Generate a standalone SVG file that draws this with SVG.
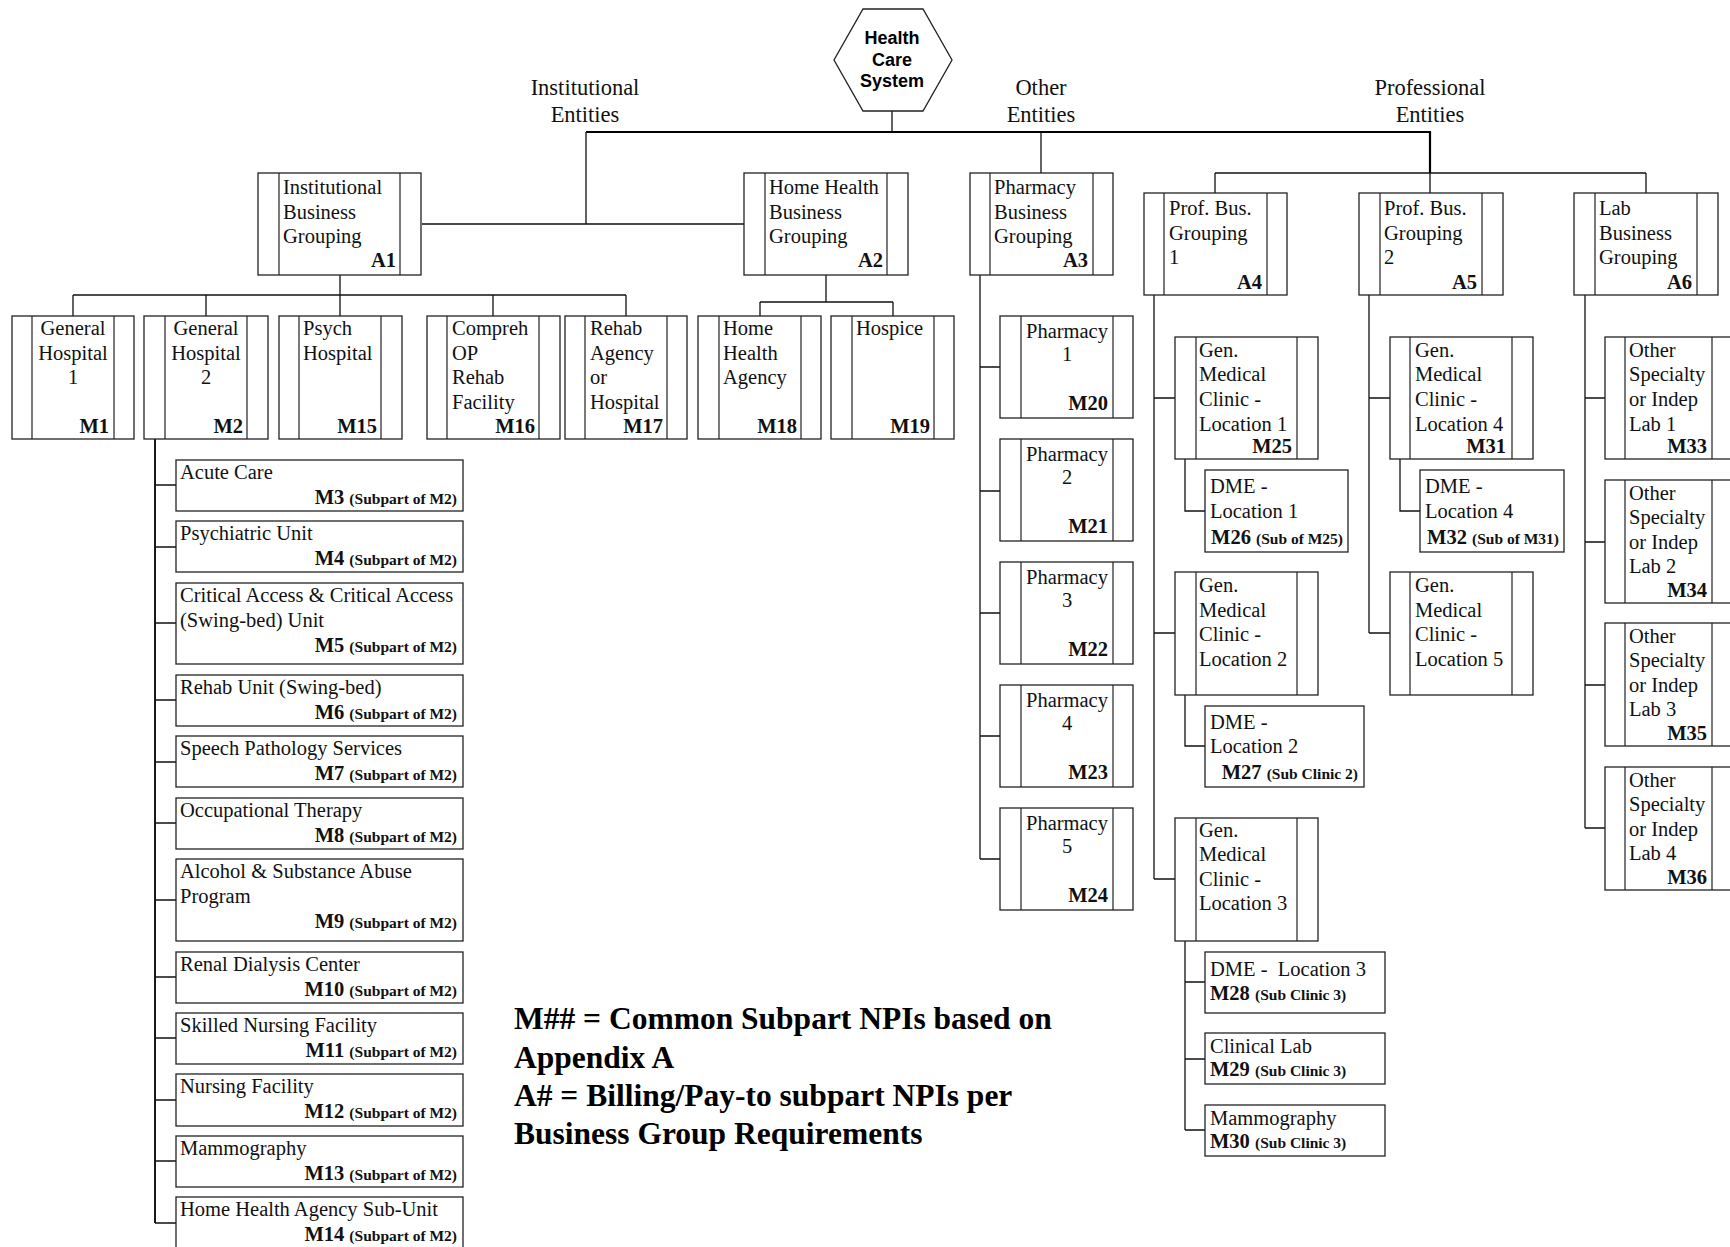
<svg xmlns="http://www.w3.org/2000/svg" width="1730" height="1247" viewBox="0 0 1730 1247">
<style>
.bg{fill:#fff}
.b{fill:#fff;stroke:#222;stroke-width:1.3}
.in{fill:none;stroke:#222;stroke-width:1.2}
.c{fill:none;stroke:#111;stroke-width:1.3}
.ck{fill:none;stroke:#000;stroke-width:2.2}
.t{font-family:"Liberation Serif","Times New Roman",serif;font-size:20.5px;fill:#111}
.mid{text-anchor:middle}
.m{font-weight:bold;text-anchor:end}
.ml{font-weight:bold}
.s{font-size:15.5px;font-weight:bold}
.lab{font-family:"Liberation Serif","Times New Roman",serif;font-size:22.5px;fill:#111;text-anchor:middle}
.hx{font-family:"Liberation Sans",Arial,sans-serif;font-size:18px;font-weight:bold;fill:#000;text-anchor:middle}
.leg{font-family:"Liberation Serif","Times New Roman",serif;font-size:31.5px;font-weight:bold;fill:#000}
</style>
<rect class="bg" x="0" y="0" width="1730" height="1247"/>

<g id="connectors">
<path class="c" d="M892,111V132"/>
<path class="ck" d="M586,132H1430V173"/>
<path class="c" d="M586,132V224M422,224H744"/>
<path class="c" d="M1041,132V173"/>
<path class="c" d="M1215,173H1646M1215,173V193M1430,173V193M1646,173V193"/>
<path class="c" d="M340,275V295M73,295H626M73,295V316M206,295V316M340,295V316M493,295V316M626,295V316"/>
<path class="c" d="M826,275V302M760,302H893M760,302V316M893,302V316"/>
<path class="ck" d="M155,439V1223" style="stroke-width:1.8"/>
<path class="c" d="M155,485H176M155,547H176M155,623H176M155,700H176M155,762H176M155,823H176M155,900H176M155,977H176M155,1038H176M155,1100H176M155,1161H176M155,1223H176"/>
<path class="c" d="M980,275V859M980,367H1000M980,491H1000M980,613H1000M980,736H1000M980,859H1000"/>
<path class="c" d="M1154,295V879M1154,398H1175M1154,633H1175M1154,879H1175"/>
<path class="c" d="M1185,459V511H1205M1185,695V746H1205"/>
<path class="c" d="M1185,941V1130M1185,982H1205M1185,1059H1205M1185,1130H1205"/>
<path class="c" d="M1369,295V633M1369,398H1390M1369,633H1390"/>
<path class="c" d="M1400,459V511H1420"/>
<path class="c" d="M1585,295V828M1585,398H1605M1585,542H1605M1585,685H1605M1585,828H1605"/>
</g>

<g id="hc">
<polygon class="b" points="863,9 923,9 952,60 923,111 863,111 834,60"/>
<text class="hx" x="892" y="44">Health</text>
<text class="hx" x="892" y="66">Care</text>
<text class="hx" x="892" y="87">System</text>
</g>

<g id="labels">
<text class="lab" x="585" y="95">Institutional</text>
<text class="lab" x="585" y="122">Entities</text>
<text class="lab" x="1041" y="95">Other</text>
<text class="lab" x="1041" y="122">Entities</text>
<text class="lab" x="1430" y="95">Professional</text>
<text class="lab" x="1430" y="122">Entities</text>
</g>

<g id="A1"><rect class="b" x="258" y="173" width="163" height="102"/><path class="in" d="M279,173V275M400,173V275"/>
<text class="t" x="283" y="194">Institutional</text><text class="t" x="283" y="219">Business</text><text class="t" x="283" y="243">Grouping</text><text class="t m" x="396" y="267">A1</text></g>
<g id="A2"><rect class="b" x="744" y="173" width="164" height="102"/><path class="in" d="M765,173V275M887,173V275"/>
<text class="t" x="769" y="194">Home Health</text><text class="t" x="769" y="219">Business</text><text class="t" x="769" y="243">Grouping</text><text class="t m" x="883" y="267">A2</text></g>
<g id="A3"><rect class="b" x="970" y="173" width="143" height="102"/><path class="in" d="M990,173V275M1093,173V275"/>
<text class="t" x="994" y="194">Pharmacy</text><text class="t" x="994" y="219">Business</text><text class="t" x="994" y="243">Grouping</text><text class="t m" x="1088" y="267">A3</text></g>
<g id="A4"><rect class="b" x="1144" y="193" width="143" height="102"/><path class="in" d="M1164,193V295M1267,193V295"/>
<text class="t" x="1169" y="215">Prof. Bus.</text><text class="t" x="1169" y="240">Grouping</text><text class="t" x="1169" y="264">1</text><text class="t m" x="1262" y="289">A4</text></g>
<g id="A5"><rect class="b" x="1359" y="193" width="144" height="102"/><path class="in" d="M1380,193V295M1482,193V295"/>
<text class="t" x="1384" y="215">Prof. Bus.</text><text class="t" x="1384" y="240">Grouping</text><text class="t" x="1384" y="264">2</text><text class="t m" x="1477" y="289">A5</text></g>
<g id="A6"><rect class="b" x="1574" y="193" width="144" height="102"/><path class="in" d="M1595,193V295M1697,193V295"/>
<text class="t" x="1599" y="215">Lab</text><text class="t" x="1599" y="240">Business</text><text class="t" x="1599" y="264">Grouping</text><text class="t m" x="1692" y="289">A6</text></g>

<g id="M1"><rect class="b" x="12" y="316" width="122" height="123"/><path class="in" d="M32,316V439M114,316V439"/>
<text class="t mid" x="73" y="335">General</text><text class="t mid" x="73" y="360">Hospital</text><text class="t mid" x="73" y="384">1</text><text class="t m" x="109" y="433">M1</text></g>
<g id="M2"><rect class="b" x="144" y="316" width="124" height="123"/><path class="in" d="M165,316V439M247,316V439"/>
<text class="t mid" x="206" y="335">General</text><text class="t mid" x="206" y="360">Hospital</text><text class="t mid" x="206" y="384">2</text><text class="t m" x="243" y="433">M2</text></g>
<g id="M15"><rect class="b" x="279" y="316" width="123" height="123"/><path class="in" d="M299,316V439M381,316V439"/>
<text class="t" x="303" y="335">Psych</text><text class="t" x="303" y="360">Hospital</text><text class="t m" x="377" y="433">M15</text></g>
<g id="M16"><rect class="b" x="427" y="316" width="133" height="123"/><path class="in" d="M447,316V439M539,316V439"/>
<text class="t" x="452" y="335">Compreh</text><text class="t" x="452" y="360">OP</text><text class="t" x="452" y="384">Rehab</text><text class="t" x="452" y="409">Facility</text><text class="t m" x="535" y="433">M16</text></g>
<g id="M17"><rect class="b" x="565" y="316" width="122" height="123"/><path class="in" d="M585,316V439M667,316V439"/>
<text class="t" x="590" y="335">Rehab</text><text class="t" x="590" y="360">Agency</text><text class="t" x="590" y="384">or</text><text class="t" x="590" y="409">Hospital</text><text class="t m" x="663" y="433">M17</text></g>
<g id="M18"><rect class="b" x="698" y="316" width="123" height="123"/><path class="in" d="M719,316V439M801,316V439"/>
<text class="t" x="723" y="335">Home</text><text class="t" x="723" y="360">Health</text><text class="t" x="723" y="384">Agency</text><text class="t m" x="797" y="433">M18</text></g>
<g id="M19"><rect class="b" x="831" y="316" width="123" height="123"/><path class="in" d="M852,316V439M934,316V439"/>
<text class="t" x="856" y="335">Hospice</text><text class="t m" x="930" y="433">M19</text></g>

<g id="M3"><rect class="b" x="176" y="460" width="287" height="51"/><text class="t" x="180" y="479">Acute Care</text><text class="t m" x="457" y="504">M3 <tspan class="s">(Subpart of M2)</tspan></text></g>
<g id="M4"><rect class="b" x="176" y="521" width="287" height="51"/><text class="t" x="180" y="540">Psychiatric Unit</text><text class="t m" x="457" y="565">M4 <tspan class="s">(Subpart of M2)</tspan></text></g>
<g id="M5"><rect class="b" x="176" y="583" width="287" height="81"/><text class="t" x="180" y="602">Critical Access &amp; Critical Access</text><text class="t" x="180" y="627">(Swing-bed) Unit</text><text class="t m" x="457" y="652">M5 <tspan class="s">(Subpart of M2)</tspan></text></g>
<g id="M6"><rect class="b" x="176" y="675" width="287" height="51"/><text class="t" x="180" y="694">Rehab Unit (Swing-bed)</text><text class="t m" x="457" y="719">M6 <tspan class="s">(Subpart of M2)</tspan></text></g>
<g id="M7"><rect class="b" x="176" y="736" width="287" height="51"/><text class="t" x="180" y="755">Speech Pathology Services</text><text class="t m" x="457" y="780">M7 <tspan class="s">(Subpart of M2)</tspan></text></g>
<g id="M8"><rect class="b" x="176" y="798" width="287" height="51"/><text class="t" x="180" y="817">Occupational Therapy</text><text class="t m" x="457" y="842">M8 <tspan class="s">(Subpart of M2)</tspan></text></g>
<g id="M9"><rect class="b" x="176" y="859" width="287" height="82"/><text class="t" x="180" y="878">Alcohol &amp; Substance Abuse</text><text class="t" x="180" y="903">Program</text><text class="t m" x="457" y="928">M9 <tspan class="s">(Subpart of M2)</tspan></text></g>
<g id="M10"><rect class="b" x="176" y="952" width="287" height="51"/><text class="t" x="180" y="971">Renal Dialysis Center</text><text class="t m" x="457" y="996">M10 <tspan class="s">(Subpart of M2)</tspan></text></g>
<g id="M11"><rect class="b" x="176" y="1013" width="287" height="51"/><text class="t" x="180" y="1032">Skilled Nursing Facility</text><text class="t m" x="457" y="1057">M11 <tspan class="s">(Subpart of M2)</tspan></text></g>
<g id="M12"><rect class="b" x="176" y="1074" width="287" height="52"/><text class="t" x="180" y="1093">Nursing Facility</text><text class="t m" x="457" y="1118">M12 <tspan class="s">(Subpart of M2)</tspan></text></g>
<g id="M13"><rect class="b" x="176" y="1136" width="287" height="51"/><text class="t" x="180" y="1155">Mammography</text><text class="t m" x="457" y="1180">M13 <tspan class="s">(Subpart of M2)</tspan></text></g>
<g id="M14"><rect class="b" x="176" y="1197" width="287" height="60"/><text class="t" x="180" y="1216">Home Health Agency Sub-Unit</text><text class="t m" x="457" y="1241">M14 <tspan class="s">(Subpart of M2)</tspan></text></g>

<g id="M20"><rect class="b" x="1000" y="316" width="133" height="102"/><path class="in" d="M1021,316V418M1113,316V418"/><text class="t mid" x="1067" y="338">Pharmacy</text><text class="t mid" x="1067" y="361">1</text><text class="t m" x="1108" y="410">M20</text></g>
<g id="M21"><rect class="b" x="1000" y="439" width="133" height="102"/><path class="in" d="M1021,439V541M1113,439V541"/><text class="t mid" x="1067" y="461">Pharmacy</text><text class="t mid" x="1067" y="484">2</text><text class="t m" x="1108" y="533">M21</text></g>
<g id="M22"><rect class="b" x="1000" y="562" width="133" height="102"/><path class="in" d="M1021,562V664M1113,562V664"/><text class="t mid" x="1067" y="584">Pharmacy</text><text class="t mid" x="1067" y="607">3</text><text class="t m" x="1108" y="656">M22</text></g>
<g id="M23"><rect class="b" x="1000" y="685" width="133" height="102"/><path class="in" d="M1021,685V787M1113,685V787"/><text class="t mid" x="1067" y="707">Pharmacy</text><text class="t mid" x="1067" y="730">4</text><text class="t m" x="1108" y="779">M23</text></g>
<g id="M24"><rect class="b" x="1000" y="808" width="133" height="102"/><path class="in" d="M1021,808V910M1113,808V910"/><text class="t mid" x="1067" y="830">Pharmacy</text><text class="t mid" x="1067" y="853">5</text><text class="t m" x="1108" y="902">M24</text></g>

<g id="M25"><rect class="b" x="1175" y="337" width="143" height="122"/><path class="in" d="M1196,337V459M1297,337V459"/><text class="t" x="1199" y="357">Gen.</text><text class="t" x="1199" y="381">Medical</text><text class="t" x="1199" y="406">Clinic -</text><text class="t" x="1199" y="431">Location 1</text><text class="t m" x="1292" y="453">M25</text></g>
<g id="M26"><rect class="b" x="1205" y="470" width="143" height="82"/><text class="t" x="1210" y="493">DME -</text><text class="t" x="1210" y="518">Location 1</text><text class="t m" x="1343" y="544">M26 <tspan class="s">(Sub of M25)</tspan></text></g>
<g id="GMC2"><rect class="b" x="1175" y="572" width="143" height="123"/><path class="in" d="M1196,572V695M1297,572V695"/><text class="t" x="1199" y="592">Gen.</text><text class="t" x="1199" y="617">Medical</text><text class="t" x="1199" y="641">Clinic -</text><text class="t" x="1199" y="666">Location 2</text></g>
<g id="M27"><rect class="b" x="1205" y="706" width="159" height="81"/><text class="t" x="1210" y="729">DME -</text><text class="t" x="1210" y="753">Location 2</text><text class="t m" x="1358" y="779">M27 <tspan class="s">(Sub Clinic 2)</tspan></text></g>
<g id="GMC3"><rect class="b" x="1175" y="818" width="143" height="123"/><path class="in" d="M1196,818V941M1297,818V941"/><text class="t" x="1199" y="837">Gen.</text><text class="t" x="1199" y="861">Medical</text><text class="t" x="1199" y="886">Clinic -</text><text class="t" x="1199" y="910">Location 3</text></g>
<g id="M28"><rect class="b" x="1205" y="952" width="180" height="61"/><text class="t" x="1210" y="976" xml:space="preserve">DME -  Location 3</text><text class="t ml" x="1210" y="1000">M28 <tspan class="s">(Sub Clinic 3)</tspan></text></g>
<g id="M29"><rect class="b" x="1205" y="1033" width="180" height="51"/><text class="t" x="1210" y="1053">Clinical Lab</text><text class="t ml" x="1210" y="1076">M29 <tspan class="s">(Sub Clinic 3)</tspan></text></g>
<g id="M30"><rect class="b" x="1205" y="1105" width="180" height="51"/><text class="t" x="1210" y="1125">Mammography</text><text class="t ml" x="1210" y="1148">M30 <tspan class="s">(Sub Clinic 3)</tspan></text></g>

<g id="M31"><rect class="b" x="1390" y="337" width="143" height="122"/><path class="in" d="M1410,337V459M1512,337V459"/><text class="t" x="1415" y="357">Gen.</text><text class="t" x="1415" y="381">Medical</text><text class="t" x="1415" y="406">Clinic -</text><text class="t" x="1415" y="431">Location 4</text><text class="t m" x="1506" y="453">M31</text></g>
<g id="M32"><rect class="b" x="1420" y="470" width="144" height="82"/><text class="t" x="1425" y="493">DME -</text><text class="t" x="1425" y="518">Location 4</text><text class="t m" x="1559" y="544">M32 <tspan class="s">(Sub of M31)</tspan></text></g>
<g id="GMC5"><rect class="b" x="1390" y="572" width="143" height="123"/><path class="in" d="M1410,572V695M1512,572V695"/><text class="t" x="1415" y="592">Gen.</text><text class="t" x="1415" y="617">Medical</text><text class="t" x="1415" y="641">Clinic -</text><text class="t" x="1415" y="666">Location 5</text></g>

<g id="M33"><rect class="b" x="1605" y="337" width="128" height="122"/><path class="in" d="M1625,337V459M1712,337V459"/><text class="t" x="1629" y="357">Other</text><text class="t" x="1629" y="381">Specialty</text><text class="t" x="1629" y="406">or Indep</text><text class="t" x="1629" y="431">Lab 1</text><text class="t m" x="1707" y="453">M33</text></g>
<g id="M34"><rect class="b" x="1605" y="480" width="128" height="123"/><path class="in" d="M1625,480V603M1712,480V603"/><text class="t" x="1629" y="500">Other</text><text class="t" x="1629" y="524">Specialty</text><text class="t" x="1629" y="549">or Indep</text><text class="t" x="1629" y="573">Lab 2</text><text class="t m" x="1707" y="597">M34</text></g>
<g id="M35"><rect class="b" x="1605" y="623" width="128" height="123"/><path class="in" d="M1625,623V746M1712,623V746"/><text class="t" x="1629" y="643">Other</text><text class="t" x="1629" y="667">Specialty</text><text class="t" x="1629" y="692">or Indep</text><text class="t" x="1629" y="716">Lab 3</text><text class="t m" x="1707" y="740">M35</text></g>
<g id="M36"><rect class="b" x="1605" y="767" width="128" height="123"/><path class="in" d="M1625,767V890M1712,767V890"/><text class="t" x="1629" y="787">Other</text><text class="t" x="1629" y="811">Specialty</text><text class="t" x="1629" y="836">or Indep</text><text class="t" x="1629" y="860">Lab 4</text><text class="t m" x="1707" y="884">M36</text></g>

<g id="legend">
<text class="leg" x="514" y="1029">M## = Common Subpart NPIs based on</text>
<text class="leg" x="514" y="1068">Appendix A</text>
<text class="leg" x="514" y="1106">A# = Billing/Pay-to subpart NPIs per</text>
<text class="leg" x="514" y="1144">Business Group Requirements</text>
</g>
</svg>
